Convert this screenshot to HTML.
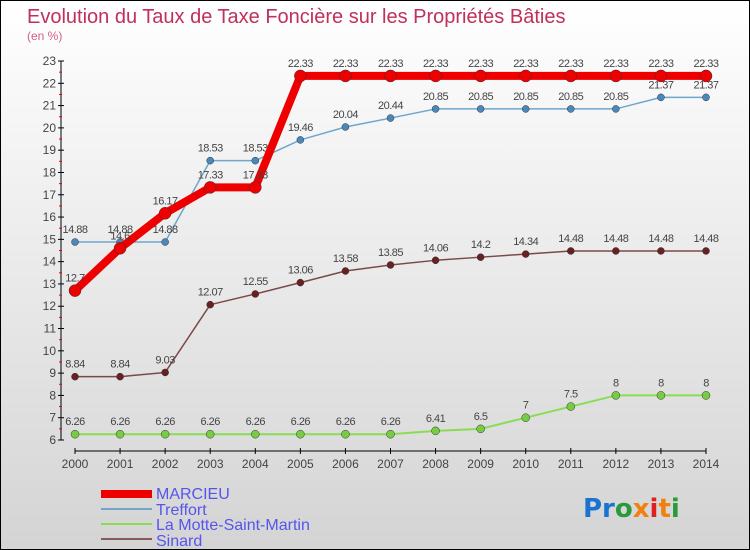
<!DOCTYPE html>
<html><head><meta charset="utf-8"><style>
body{margin:0}
#c{width:748px;height:548px;border:1px solid #000;background:linear-gradient(#fff,#d4d4d4);position:relative;overflow:hidden;font-family:"Liberation Sans",sans-serif}
</style></head><body>
<div id="c">
<svg id="s" width="748" height="548" xmlns="http://www.w3.org/2000/svg">
<text x="26" y="22" font-size="20" fill="#c0305a">Evolution du Taux de Taxe Foncière sur les Propriétés Bâties</text>
<text x="26" y="39" font-size="12" fill="#d0608a">(en %)</text>
<g id="axes"></g><g id="series"></g>
<g>
<rect x="100" y="489" width="51" height="8" fill="#e00"/>
<text x="155" y="498" font-size="16" fill="#5555ee">MARCIEU</text>
<line x1="100" y1="508" x2="151" y2="508" stroke="#6fa6cc" stroke-width="2"/>
<text x="155" y="514" font-size="16" fill="#5555ee">Treffort</text>
<line x1="100" y1="523" x2="151" y2="523" stroke="#88dd55" stroke-width="2"/>
<text x="155" y="529" font-size="16" fill="#5555ee">La Motte-Saint-Martin</text>
<line x1="100" y1="538" x2="151" y2="538" stroke="#8a5a5a" stroke-width="2"/>
<text x="155" y="545" font-size="16" fill="#5555ee">Sinard</text>
</g>
<text x="582" y="516" font-size="26" font-weight="bold" font-family="DejaVu Sans,sans-serif"><tspan fill="#1a73d0">Pr</tspan><tspan fill="#2a9a3a">o</tspan><tspan fill="#f08010">x</tspan><tspan fill="#e02020">i</tspan><tspan fill="#f08010">t</tspan><tspan fill="#2a9a3a">i</tspan></text>
</svg></div>
<script>
const years=[2000,2001,2002,2003,2004,2005,2006,2007,2008,2009,2010,2011,2012,2013,2014];
const marcieu=[12.7,14.6,16.17,17.33,17.33,22.33,22.33,22.33,22.33,22.33,22.33,22.33,22.33,22.33,22.33];
const treffort=[14.88,14.88,14.88,18.53,18.53,19.46,20.04,20.44,20.85,20.85,20.85,20.85,20.85,21.37,21.37];
const motte=[6.26,6.26,6.26,6.26,6.26,6.26,6.26,6.26,6.41,6.5,7,7.5,8,8,8];
const sinard=[8.84,8.84,9.03,12.07,12.55,13.06,13.58,13.85,14.06,14.2,14.34,14.48,14.48,14.48,14.48];
const yTicks=[6,7,8,9,10,11,12,13,14,15,16,17,18,19,20,21,22,23];
const NS="http://www.w3.org/2000/svg";
const x=i=>74+i*(705-74)/(years.length-1);
const y=v=>439-(v-6)*(439-60)/(23-6);
function mk(t,a,p){const e=document.createElementNS(NS,t);for(const k in a)e.setAttribute(k,a[k]);p.appendChild(e);return e;}
const ax=document.getElementById('axes');
let l=mk('line',{x1:60,y1:y(23),x2:60,y2:y(6),stroke:'#000'},ax);

yTicks.forEach(v=>{mk('line',{x1:57,x2:63,y1:y(v),y2:y(v),stroke:'#000'},ax);
 if(v<23)mk('line',{x1:58,x2:61,y1:y(v+0.5),y2:y(v+0.5),stroke:'#e00'},ax);
 const t=mk('text',{x:55,y:y(v)+4,'font-size':12,fill:'#444','text-anchor':'end'},ax);t.textContent=v;
 });
l=mk('line',{x1:74,y1:450,x2:705,y2:450,stroke:'#000'},ax);

years.forEach((yr,i)=>{mk('line',{x1:x(i),x2:x(i),y1:447,y2:453,stroke:'#000'},ax);
 const t=mk('text',{x:x(i),y:467,'font-size':12,fill:'#444','text-anchor':'middle'},ax);t.textContent=yr;
 });
const sg=document.getElementById('series');
function draw(d,name,col,w,dot,r){
 const g=mk('g',{},sg);
 mk('polyline',{points:d.map((v,i)=>x(i)+','+y(v)).join(' '),fill:'none',stroke:col,'stroke-width':w,'stroke-linejoin':'round'},g);
 d.forEach((v,i)=>{const c=mk('circle',{cx:x(i),cy:y(v),r:r,fill:dot,stroke:'#333','stroke-width':0.5},g);
  
  const t=mk('text',{x:x(i),y:y(v)-9,'font-size':11,fill:'#444','text-anchor':'middle','letter-spacing':'-0.5'},g);t.textContent=v;
  });
}
draw(motte,'la-motte','#88dd55',2,'#77cc44',4);
draw(sinard,'sinard','#7a4a4a',1.5,'#6a2020',3.5);
draw(treffort,'treffort','#6fa6cc',1.5,'#4a88bb',3.5);
draw(marcieu,'marcieu','#ee0000',8,'#ee0000',6);
</script>
</body></html>
